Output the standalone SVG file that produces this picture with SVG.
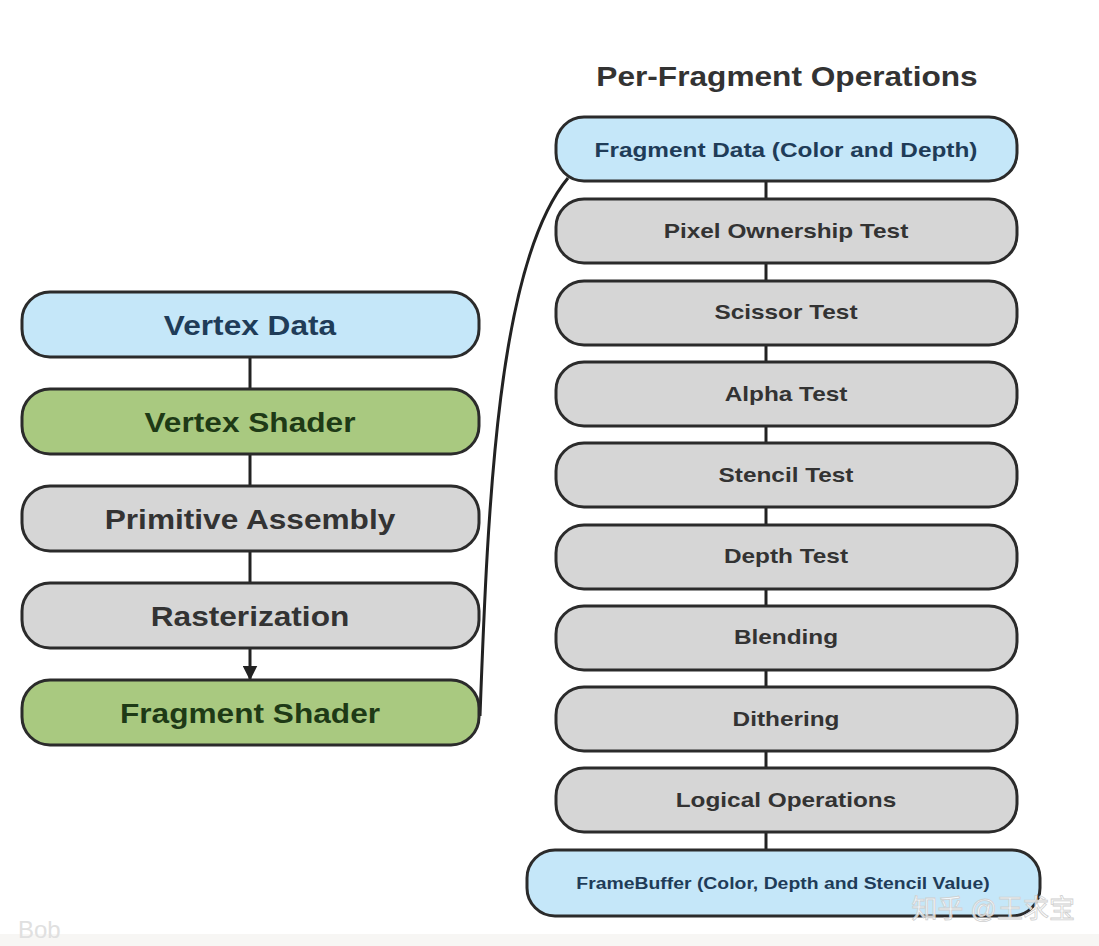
<svg xmlns="http://www.w3.org/2000/svg" width="1099" height="946" viewBox="0 0 1099 946">
<style>
.box{stroke:#2b2b2b;stroke-width:3}
.blue{fill:#c5e7f9}
.green{fill:#a9c980}
.gray{fill:#d6d6d6}
.t{font-family:"Liberation Sans",Arial,sans-serif;font-weight:bold;text-anchor:middle;dominant-baseline:central}
.tb{fill:#1f3c58}
.tg{fill:#1e3a16}
.tk{fill:#333333}
.L{font-size:28px}
.R{font-size:21px}
.conn{stroke:#222;stroke-width:3;fill:none}
</style>
<defs>
<marker id="arr" viewBox="0 0 10 10" refX="9" refY="5" markerWidth="5" markerHeight="5" orient="auto" markerUnits="strokeWidth">
<path d="M0,0 L10,5 L0,10 z" fill="#222"/>
</marker>
</defs>
<rect width="1099" height="946" fill="#ffffff"/>
<rect y="934" width="1099" height="12" fill="#f7f6f4"/>
<text transform="translate(787 76) scale(1.13 1)" class="t" font-size="28" fill="#333">Per-Fragment Operations</text>

<g id="connectors">
<line class="conn" x1="250" y1="357" x2="250" y2="389"/>
<line class="conn" x1="250" y1="454" x2="250" y2="486"/>
<line class="conn" x1="250" y1="551" x2="250" y2="583"/>
<line class="conn" x1="250" y1="648" x2="250" y2="679" marker-end="url(#arr)"/>
<path class="conn" stroke-width="3.5" d="M480,716 C488,500 498,262 568,178"/>
<line class="conn" x1="766" y1="181" x2="766" y2="199"/>
<line class="conn" x1="766" y1="263" x2="766" y2="281"/>
<line class="conn" x1="766" y1="345" x2="766" y2="362"/>
<line class="conn" x1="766" y1="426" x2="766" y2="443"/>
<line class="conn" x1="766" y1="507" x2="766" y2="525"/>
<line class="conn" x1="766" y1="589" x2="766" y2="606"/>
<line class="conn" x1="766" y1="670" x2="766" y2="687"/>
<line class="conn" x1="766" y1="751" x2="766" y2="768"/>
<line class="conn" x1="766" y1="832" x2="766" y2="850"/>
</g>

<g id="vertex-data"><rect class="box blue" x="22" y="292" width="457" height="65" rx="28"/><text class="t L tb" transform="translate(250 325) scale(1.13 1)">Vertex Data</text></g>
<g id="vertex-shader"><rect class="box green" x="22" y="389" width="457" height="65" rx="28"/><text class="t L tg" transform="translate(250 422) scale(1.13 1)">Vertex Shader</text></g>
<g id="primitive-assembly"><rect class="box gray" x="22" y="486" width="457" height="65" rx="28"/><text class="t L tk" transform="translate(250 519) scale(1.13 1)">Primitive Assembly</text></g>
<g id="rasterization"><rect class="box gray" x="22" y="583" width="457" height="65" rx="28"/><text class="t L tk" transform="translate(250 616) scale(1.13 1)">Rasterization</text></g>
<g id="fragment-shader"><rect class="box green" x="22" y="680" width="457" height="65" rx="28"/><text class="t L tg" transform="translate(250 713) scale(1.13 1)">Fragment Shader</text></g>

<g id="fragment-data"><rect class="box blue" x="556" y="117" width="461" height="64" rx="28"/><text class="t R tb" transform="translate(786 150) scale(1.16 1)">Fragment Data (Color and Depth)</text></g>
<g id="pixel-ownership"><rect class="box gray" x="556" y="199" width="461" height="64" rx="28"/><text class="t R tk" transform="translate(786 231) scale(1.16 1)">Pixel Ownership Test</text></g>
<g id="scissor"><rect class="box gray" x="556" y="281" width="461" height="64" rx="28"/><text class="t R tk" transform="translate(786 312) scale(1.16 1)">Scissor Test</text></g>
<g id="alpha"><rect class="box gray" x="556" y="362" width="461" height="64" rx="28"/><text class="t R tk" transform="translate(786 394) scale(1.16 1)">Alpha Test</text></g>
<g id="stencil"><rect class="box gray" x="556" y="443" width="461" height="64" rx="28"/><text class="t R tk" transform="translate(786 475) scale(1.16 1)">Stencil Test</text></g>
<g id="depth"><rect class="box gray" x="556" y="525" width="461" height="64" rx="28"/><text class="t R tk" transform="translate(786 556) scale(1.16 1)">Depth Test</text></g>
<g id="blending"><rect class="box gray" x="556" y="606" width="461" height="64" rx="28"/><text class="t R tk" transform="translate(786 637) scale(1.16 1)">Blending</text></g>
<g id="dithering"><rect class="box gray" x="556" y="687" width="461" height="64" rx="28"/><text class="t R tk" transform="translate(786 719) scale(1.16 1)">Dithering</text></g>
<g id="logical"><rect class="box gray" x="556" y="768" width="461" height="64" rx="28"/><text class="t R tk" transform="translate(786 800) scale(1.16 1)">Logical Operations</text></g>
<g id="framebuffer"><rect class="box blue" x="527" y="850" width="513" height="66" rx="28"/><text class="t tb" font-size="17" transform="translate(783 883) scale(1.14 1)">FrameBuffer (Color, Depth and Stencil Value)</text></g>

<text x="18" y="938" font-family="'Liberation Sans',Arial,sans-serif" font-size="24" fill="#e0e0e0">Bob</text>
<text x="1075" y="918" font-family="'Liberation Sans','Noto Sans CJK SC',sans-serif" font-size="26" fill="#ffffff" fill-opacity="0.8" stroke="#cfcfcf" stroke-width="0.8" text-anchor="end">知乎 @王求宝</text>
</svg>
